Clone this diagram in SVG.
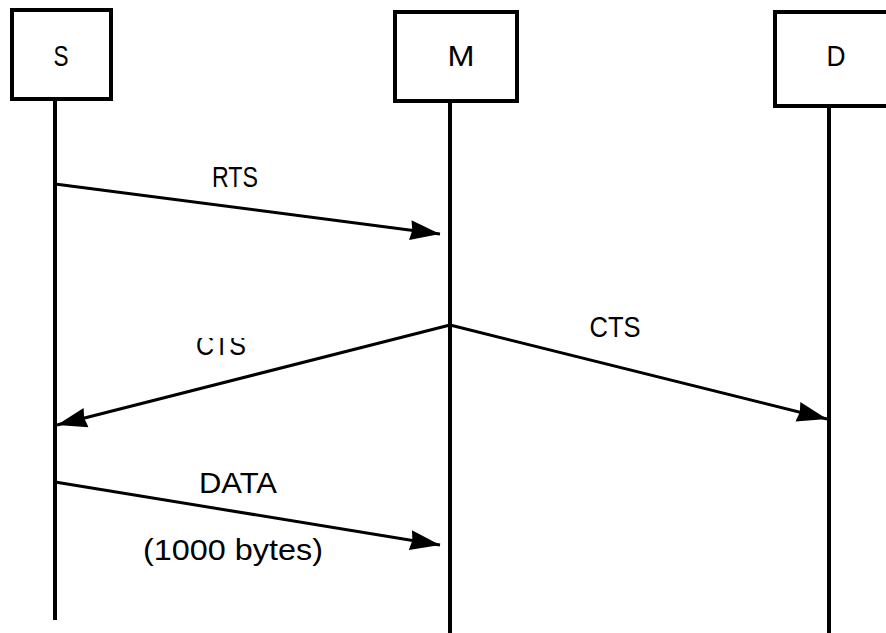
<svg xmlns="http://www.w3.org/2000/svg" width="886" height="633" viewBox="0 0 886 633">
<style>
.box{fill:#fff;stroke:#000;stroke-width:4}
.life{stroke:#000;stroke-width:4;fill:none}
.msg{stroke:#000;stroke-width:3;fill:none}
.lbl{font-family:"Liberation Sans",Arial,sans-serif;font-size:30px;fill:#000;text-anchor:middle}
</style>
<defs>
<marker id="ah" viewBox="0 0 30 24" refX="30" refY="12" markerWidth="30" markerHeight="24" markerUnits="userSpaceOnUse" orient="auto">
<path d="M0,2 L30,12 L0,22 L2,12 z" fill="#000"/>
</marker>
<clipPath id="ctsclip"><rect x="150" y="338" width="150" height="30"/></clipPath>
</defs>
<rect width="886" height="633" fill="#fff"/>
<g id="lifelines">
<line class="life" x1="55" y1="101" x2="55" y2="620"/>
<line class="life" x1="450" y1="103" x2="450" y2="633"/>
<line class="life" x1="829" y1="108" x2="829" y2="633"/>
</g>
<g id="node-S">
<rect class="box" x="12" y="10" width="99" height="89"/>
<text class="lbl" x="61" y="66" textLength="15" lengthAdjust="spacingAndGlyphs">S</text>
</g>
<g id="node-M">
<rect class="box" x="395" y="12" width="122" height="89"/>
<text class="lbl" x="461" y="66" textLength="27" lengthAdjust="spacingAndGlyphs">M</text>
</g>
<g id="node-D">
<rect class="box" x="775" y="12" width="130" height="94"/>
<text class="lbl" x="836" y="66" textLength="19" lengthAdjust="spacingAndGlyphs">D</text>
</g>
<g id="connectors">
<line class="msg" x1="55" y1="184" x2="440" y2="234" marker-end="url(#ah)"/>
<line class="msg" x1="450" y1="325" x2="57" y2="425" marker-end="url(#ah)"/>
<line class="msg" x1="450" y1="325" x2="827" y2="419" marker-end="url(#ah)"/>
<line class="msg" x1="55" y1="482" x2="440" y2="545" marker-end="url(#ah)"/>
</g>
<g id="labels">
<text class="lbl" x="235" y="187" textLength="46" lengthAdjust="spacingAndGlyphs">RTS</text>
<text class="lbl" x="221" y="355" textLength="50" lengthAdjust="spacingAndGlyphs" clip-path="url(#ctsclip)">CTS</text>
<text class="lbl" x="615" y="337" textLength="51" lengthAdjust="spacingAndGlyphs">CTS</text>
<text class="lbl" x="238" y="493" textLength="78" lengthAdjust="spacingAndGlyphs">DATA</text>
<text class="lbl" x="233" y="560" textLength="180" lengthAdjust="spacingAndGlyphs">(1000 bytes)</text>
</g>
</svg>
